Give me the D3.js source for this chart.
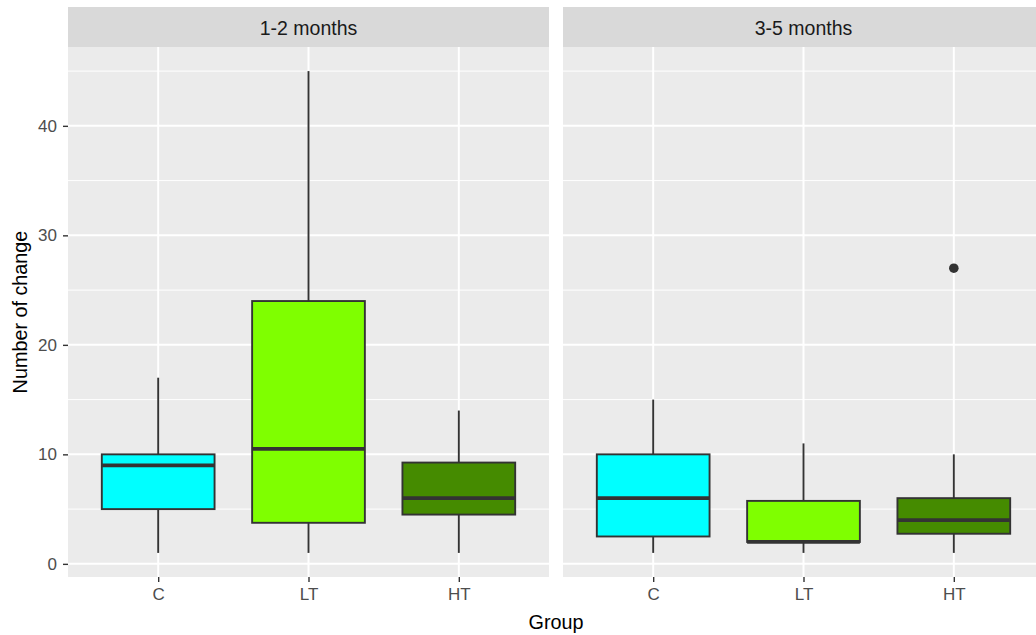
<!DOCTYPE html>
<html>
<head>
<meta charset="utf-8">
<script src="https://cdn.jsdelivr.net/npm/d3@7"></script>
<style>
  body { margin: 0; background: #fff; }
  svg { display: block; font-family: "Liberation Sans", Arial, sans-serif; }
</style>
</head>
<body>
<div id="chart"></div>
<script>
const facets = ['1-2 months', '3-5 months'];
const groups = ['C', 'LT', 'HT'];
const groupColors = ['#00FFFF', '#7FFF00', '#458B00'];
// per facet, per group: [min whisker, q1, median, q3, max whisker]
const stats12 = [[1, 5, 9, 10, 17], [1, 3.75, 10.5, 24, 45], [1, 4.5, 6, 9.25, 14]];
const stats35 = [[1, 2.5, 6, 10, 15], [1, 2, 2, 5.75, 11], [1, 2.75, 4, 6, 10]];
const outliers35 = [null, null, [27]];
const yTicks = [0, 10, 20, 30, 40];
const yMinor = [5, 15, 25, 35, 45];

const width = 1036, height = 635;
const panelW = 481, panelTop = 47, panelBottom = 577, stripTop = 7;
const panelX = [68, 563];
const font = '"Liberation Sans", Arial, sans-serif';

const svg = d3.select('#chart').append('svg')
    .attr('width', width)
    .attr('height', height);

const yScale = d3.scaleLinear().domain([-1.2, 47.2]).range([panelBottom, panelTop]);

const allStats = [stats12, stats35];
const allOutliers = [[null, null, null], outliers35];

facets.forEach((f, fi) => {
    const x0 = panelX[fi];
    const xScale = d3.scalePoint().domain(groups).range([x0 + 0.6 * panelW / 3.2, x0 + 2.6 * panelW / 3.2]);
    const band = 0.75 * panelW / 3.2;

    const g = svg.append('g');
    g.append('rect')
        .attr('x', x0).attr('y', panelTop)
        .attr('width', panelW).attr('height', panelBottom - panelTop)
        .attr('fill', '#EBEBEB');

    // strip
    g.append('rect')
        .attr('x', x0).attr('y', stripTop)
        .attr('width', panelW).attr('height', panelTop - stripTop)
        .attr('fill', '#D9D9D9');
    g.append('text')
        .attr('x', x0 + panelW / 2).attr('y', 35)
        .attr('text-anchor', 'middle')
        .style('font-size', '19.5px')
        .attr('fill', '#1A1A1A')
        .text(f);

    // grid
    g.selectAll('.minor').data(yMinor).enter().append('line')
        .attr('x1', x0).attr('x2', x0 + panelW)
        .attr('y1', d => yScale(d)).attr('y2', d => yScale(d))
        .attr('stroke', '#fff').attr('stroke-width', 1);
    g.selectAll('.major').data(yTicks).enter().append('line')
        .attr('x1', x0).attr('x2', x0 + panelW)
        .attr('y1', d => yScale(d)).attr('y2', d => yScale(d))
        .attr('stroke', '#fff').attr('stroke-width', 2);
    g.selectAll('.vgrid').data(groups).enter().append('line')
        .attr('x1', d => xScale(d)).attr('x2', d => xScale(d))
        .attr('y1', panelTop).attr('y2', panelBottom)
        .attr('stroke', '#fff').attr('stroke-width', 2);

    // boxes
    const st = allStats[fi];
    groups.forEach((grp, gi) => {
        const s = st[gi];
        const cx = xScale(grp);
        g.append('line')
            .attr('x1', cx).attr('x2', cx)
            .attr('y1', yScale(s[0])).attr('y2', yScale(s[1]))
            .attr('stroke', '#333').attr('stroke-width', 1.9);
        g.append('line')
            .attr('x1', cx).attr('x2', cx)
            .attr('y1', yScale(s[3])).attr('y2', yScale(s[4]))
            .attr('stroke', '#333').attr('stroke-width', 1.9);
        g.append('rect')
            .attr('x', cx - band / 2).attr('y', yScale(s[3]))
            .attr('width', band).attr('height', yScale(s[1]) - yScale(s[3]))
            .attr('fill', groupColors[gi])
            .attr('stroke', '#333').attr('stroke-width', 1.9);
        g.append('line')
            .attr('x1', cx - band / 2).attr('x2', cx + band / 2)
            .attr('y1', yScale(s[2])).attr('y2', yScale(s[2]))
            .attr('stroke', '#333').attr('stroke-width', 3.8);
        const out = allOutliers[fi][gi];
        if (out) {
            out.forEach(v => {
                g.append('circle')
                    .attr('cx', cx).attr('cy', yScale(v)).attr('r', 4.8)
                    .attr('fill', '#333');
            });
        }
    });

    // x axis
    const xAxis = d3.axisBottom(xScale).tickSize(5).tickPadding(6);
    const xa = svg.append('g')
        .attr('transform', `translate(0, ${panelBottom})`)
        .call(xAxis);
    xa.select('.domain').remove();
    xa.selectAll('line').attr('stroke', '#333').attr('stroke-width', 1.4);
    xa.selectAll('text').attr('fill', '#4D4D4D')
        .style('font-size', '17px').style('font-family', font);
});

// y axis
const yAxis = d3.axisLeft(yScale).tickValues(yTicks).tickSize(5).tickPadding(6);
const ya = svg.append('g')
    .attr('transform', `translate(${panelX[0]}, 0)`)
    .call(yAxis);
ya.select('.domain').remove();
ya.selectAll('line').attr('stroke', '#333').attr('stroke-width', 1.4);
ya.selectAll('text').attr('fill', '#4D4D4D')
    .style('font-size', '17px').style('font-family', font);

// titles
svg.append('text')
    .attr('x', (panelX[0] + panelX[1] + panelW) / 2)
    .attr('y', 629)
    .attr('text-anchor', 'middle')
    .style('font-size', '19.8px')
    .attr('fill', '#000')
    .text('Group');

svg.append('text')
    .attr('transform', `translate(27, ${(panelTop + panelBottom) / 2}) rotate(-90)`)
    .attr('text-anchor', 'middle')
    .style('font-size', '19.8px')
    .attr('fill', '#000')
    .text('Number of change');
</script>
</body>
</html>
